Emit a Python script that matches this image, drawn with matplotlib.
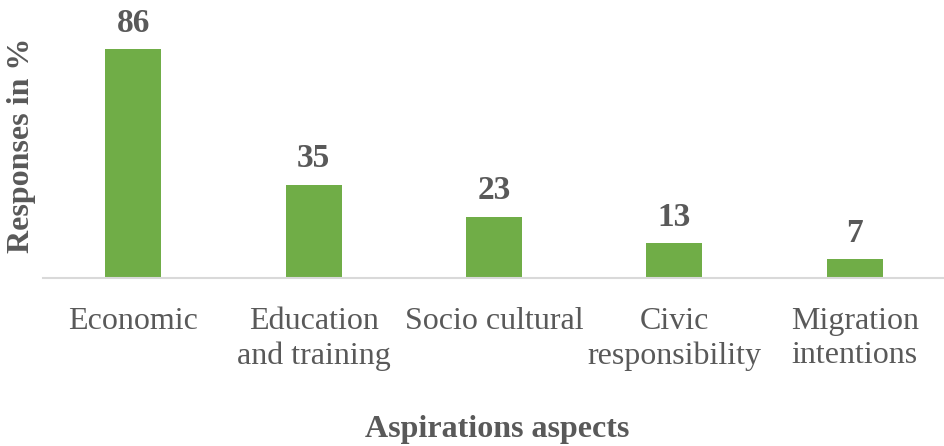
import matplotlib
matplotlib.use("Agg")
import matplotlib.pyplot as plt
import numpy as np

categories = ["Economic", "Education\nand training", "Socio cultural",
              "Civic\nresponsibility", "Migration\nintentions"]
values = [86, 35, 23, 13, 7]

bar_color = "#70AD47"
text_color = "#595959"

plt.rcParams['font.family'] = ['Liberation Serif', 'DejaVu Serif']

fig = plt.figure(figsize=(9.45, 4.46), dpi=100)
ax = fig.add_axes([43 / 945, 1 - 278 / 446, 902 / 945, 266 / 446])

x = np.arange(len(categories))
bars = ax.bar(x, values, width=0.31, color=bar_color)

for xi, v in zip(x, values):
    ax.text(xi, v + 4, str(v), ha="center", va="bottom", fontsize=24,
            fontweight="bold", color=text_color)

ax.set_xlim(-0.5, len(categories) - 0.5)
ax.set_ylim(0, 100)
ax.set_yticks([])
ax.set_xticks(x)
ax.set_xticklabels(categories, fontsize=23, color=text_color, linespacing=1.22)
ax.tick_params(axis="x", length=0, pad=21)

for s in ["top", "right", "left"]:
    ax.spines[s].set_visible(False)
ax.spines["bottom"].set_color("#D9D9D9")
ax.spines["bottom"].set_linewidth(1.5)

fig.text(22 / 945, 1 - 145 / 446, "Responses in %", rotation=90, ha="center", va="center",
         fontsize=23, fontweight="bold", color=text_color)
fig.text(497 / 945, 1 - 429 / 446, "Aspirations aspects", ha="center", va="center",
         fontsize=23, fontweight="bold", color=text_color)

fig.savefig("out.png", dpi=100)
